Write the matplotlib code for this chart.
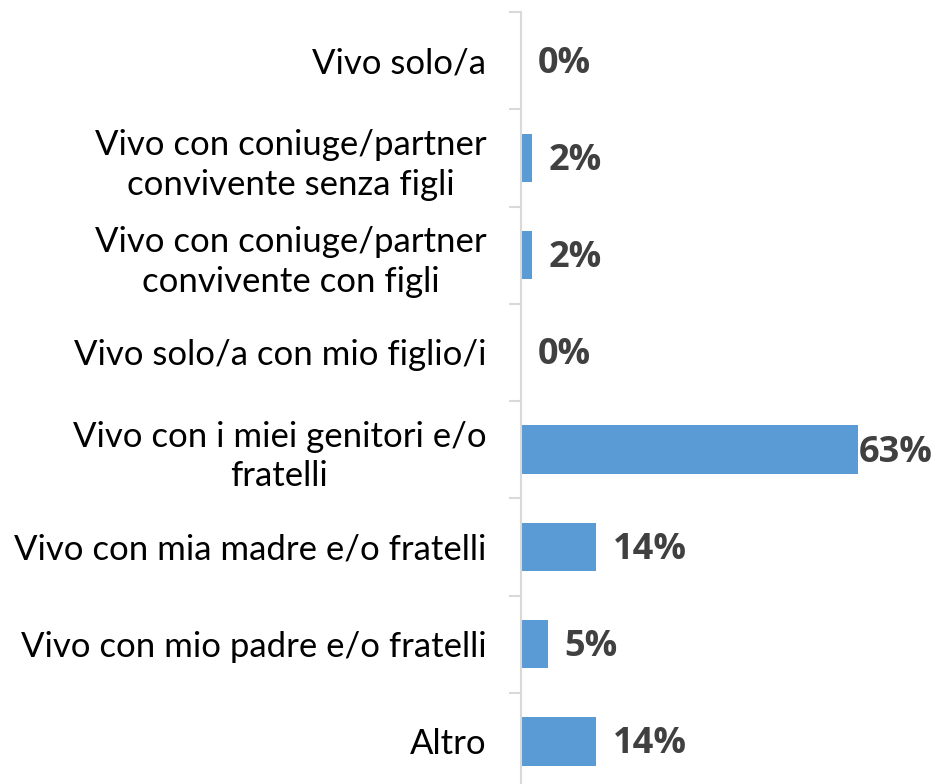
import matplotlib.pyplot as plt
from matplotlib.ticker import FixedLocator

# Categories top to bottom, with percentage shares
categories = [
    "Vivo solo/a",
    "Vivo con coniuge/partner\nconvivente senza figli",
    "Vivo con coniuge/partner\nconvivente con figli",
    "Vivo solo/a con mio figlio/i",
    "Vivo con i miei genitori e/o\nfratelli",
    "Vivo con mia madre e/o fratelli",
    "Vivo con mio padre e/o fratelli",
    "Altro",
]
values = [0, 2, 2, 0, 63, 14, 5, 14]

BAR_COLOR = "#5b9bd5"
AXIS_COLOR = "#d9d9d9"
LABEL_COLOR = "#404040"

fig = plt.figure(figsize=(9.38, 7.84), dpi=100)
ax = fig.add_axes([521 / 938, -6 / 784, 1 - 521 / 938, 778 / 784])

pos = list(range(len(categories)))
ax.barh(pos, values, height=0.5, color=BAR_COLOR)
ax.set_ylim(len(categories) - 0.5, -0.5)
ax.set_xlim(0, 78)

for y, v in zip(pos, values):
    off = 1 if v == max(values) else 17
    ax.annotate(f"{v}%", (v, y), xytext=(off, -3), textcoords="offset pixels",
                ha="left", va="center", fontsize=26, fontweight="bold",
                color=LABEL_COLOR, family="Open Sans")

for s in ["top", "right", "bottom"]:
    ax.spines[s].set_visible(False)
ax.spines["left"].set_color(AXIS_COLOR)
ax.spines["left"].set_linewidth(1.5)

ax.set_xticks([])
ax.set_yticks(pos)
ax.set_yticklabels(categories, fontsize=25, family="Lato", color="black",
                   multialignment="center", linespacing=1.3)
ax.tick_params(axis="y", which="major", length=0, pad=25)
ax.yaxis.set_minor_locator(FixedLocator([p - 0.5 for p in pos] + [len(pos) - 0.5]))
ax.tick_params(axis="y", which="minor", length=9, width=1.5, color=AXIS_COLOR)

fig.savefig("out.png", dpi=100)
